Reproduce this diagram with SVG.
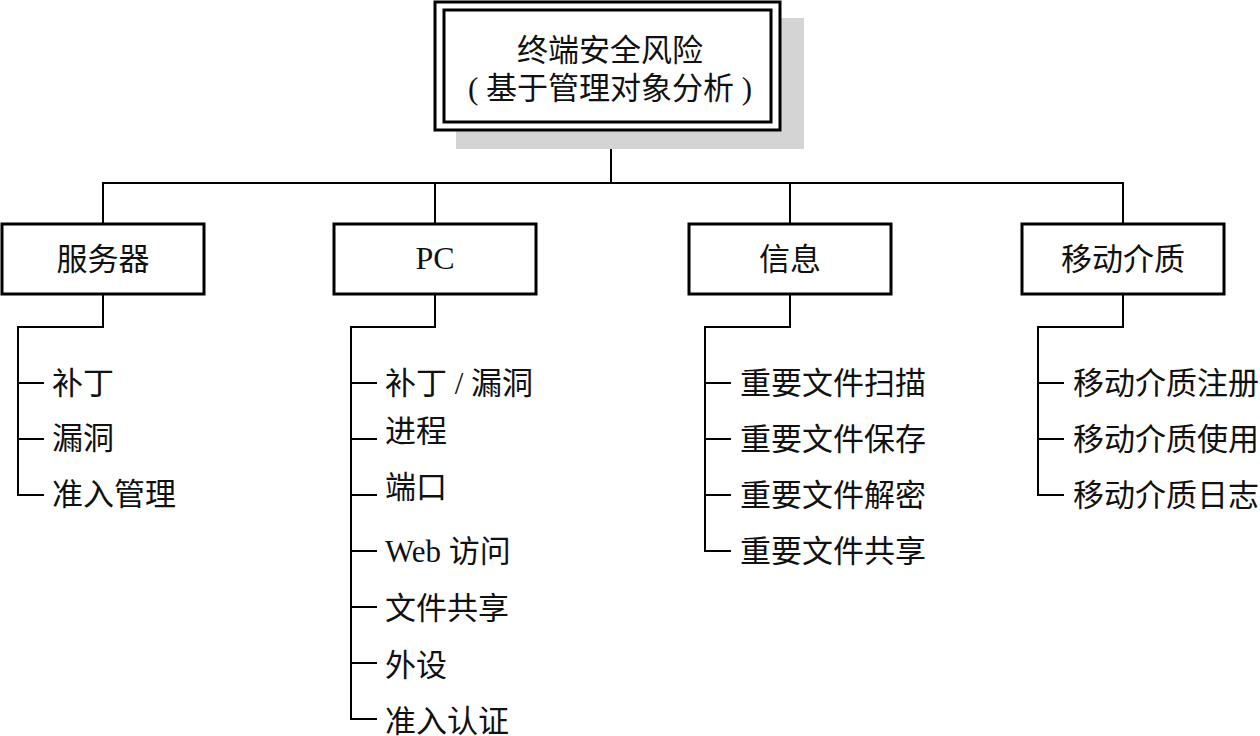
<svg xmlns="http://www.w3.org/2000/svg" width="1260" height="736" viewBox="0 0 1260 736">
<style>
.box{fill:#fff;stroke:#000;stroke-width:3}
.ln{fill:none;stroke:#000;stroke-width:2}
text{font-family:"Liberation Serif","Noto Sans CJK SC",serif;font-size:31px;fill:#111;dominant-baseline:central}
.c{text-anchor:middle}
.lat{font-size:32px}
</style>
<rect width="1260" height="736" fill="#fff"/>
<g id="connectors">
<path class="ln" d="M611 130V183M102 183H1124M103 183V224M435 183V224M790 183V224M1123 183V224"/>
<path class="ln" d="M103 294V327H18V495H44M18 383H44M18 439H44"/>
<path class="ln" d="M435 294V327H351V719H377M351 383H377M351 439H377M351 495H377M351 551H377M351 607H377M351 663H377"/>
<path class="ln" d="M790 294V327H705V551H731M705 383H731M705 439H731M705 495H731"/>
<path class="ln" d="M1123 294V327H1038V495H1064M1038 383H1064M1038 439H1064"/>
</g>
<g id="root">
<rect x="456" y="18" width="348" height="131" fill="#d4d4d4"/>
<rect class="box" x="435" y="2" width="345" height="128"/>
<rect class="box" x="444" y="10" width="327" height="112"/>
<text class="c" x="610" y="50" fill="#222">终端安全风险</text>
<text class="c" x="610" y="88" fill="#222">( 基于管理对象分析 )</text>
</g>
<g id="server">
<rect class="box" x="2" y="224" width="202" height="70"/>
<text class="c" x="103" y="259">服务器</text>
<text x="52" y="383">补丁</text>
<text x="52" y="438">漏洞</text>
<text x="52" y="494">准入管理</text>
</g>
<g id="pc">
<rect class="box" x="334" y="224" width="202" height="70"/>
<text class="c lat" x="435" y="258">PC</text>
<text x="385" y="383">补丁 / 漏洞</text>
<text x="385" y="431">进程</text>
<text x="385" y="487">端口</text>
<text x="385" y="551">Web 访问</text>
<text x="385" y="608">文件共享</text>
<text x="385" y="665">外设</text>
<text x="385" y="721">准入认证</text>
</g>
<g id="info">
<rect class="box" x="689" y="224" width="202" height="70"/>
<text class="c" x="790" y="259">信息</text>
<text x="740" y="383">重要文件扫描</text>
<text x="740" y="439">重要文件保存</text>
<text x="740" y="495">重要文件解密</text>
<text x="740" y="551">重要文件共享</text>
</g>
<g id="media">
<rect class="box" x="1022" y="224" width="202" height="70"/>
<text class="c" x="1123" y="259">移动介质</text>
<text x="1073" y="383">移动介质注册</text>
<text x="1073" y="439">移动介质使用</text>
<text x="1073" y="495">移动介质日志</text>
</g>
</svg>
